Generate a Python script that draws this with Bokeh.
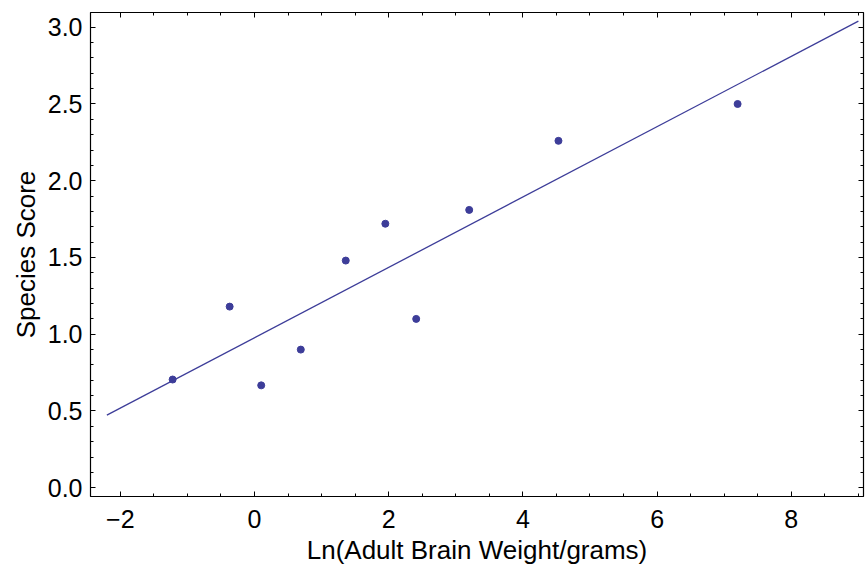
import numpy as np
from bokeh.plotting import figure
from bokeh.models import Range1d, LinearAxis, SingleIntervalTicker, CustomJSTickFormatter
from bokeh.embed import file_html
from bokeh.resources import INLINE

# Data
log_brain_weight = [-1.22, -0.37, 0.10, 0.69, 1.36, 1.95, 2.41, 3.20, 4.53, 7.20]
species_score = [0.705, 1.18, 0.667, 0.90, 1.48, 1.72, 1.10, 1.81, 2.26, 2.50]
fit_x_span = [-2.2, 9.0]

x_title = "Ln(Adult Brain Weight/grams)"
y_title = "Species Score"

MARK = "#3d3d99"
FONT = "Liberation Sans"

slope, intercept = np.polyfit(log_brain_weight, species_score, 1)
fit_x = np.array(fit_x_span)
fit_y = slope * fit_x + intercept

p = figure(width=865, height=569, output_backend="svg", toolbar_location=None,
           x_range=Range1d(-2.444, 9.076), y_range=Range1d(-0.057, 3.096),
           x_axis_location=None, y_axis_location=None)
p.min_border_left = 90
p.min_border_right = 2
p.min_border_top = 12
p.min_border_bottom = 73
p.xgrid.visible = False
p.ygrid.visible = False
p.outline_line_color = "black"
p.background_fill_color = "white"
p.border_fill_color = "white"

x_fmt = CustomJSTickFormatter(code="return tick < 0 ? '\\u2212' + Math.abs(tick) : String(tick);")
y_fmt = CustomJSTickFormatter(code="return tick.toFixed(1);")


def make_axis(kind, show_labels):
    if kind == "x":
        ax = LinearAxis(ticker=SingleIntervalTicker(interval=2, num_minor_ticks=4), formatter=x_fmt)
    else:
        ax = LinearAxis(ticker=SingleIntervalTicker(interval=0.5, num_minor_ticks=5), formatter=y_fmt)
    ax.axis_line_color = "black"
    ax.axis_line_width = 1.2
    ax.major_tick_in = 5
    ax.major_tick_out = 0
    ax.minor_tick_in = 3
    ax.minor_tick_out = 0
    ax.major_tick_line_color = "black"
    ax.minor_tick_line_color = "black"
    ax.major_label_text_font = FONT
    ax.major_label_text_color = "black"
    ax.axis_label_text_font = FONT
    ax.axis_label_text_font_style = "normal"
    ax.axis_label_text_color = "black"
    if show_labels:
        ax.major_label_text_font_size = "25px"
        ax.axis_label_text_font_size = "26px"
        ax.axis_label_standoff = 4
    else:
        ax.major_label_text_font_size = "0px"
        ax.major_label_standoff = 0
        ax.major_label_text_alpha = 0
    return ax


bx = make_axis("x", True)
bx.axis_label = x_title
bx.major_label_standoff = 13
ly = make_axis("y", True)
ly.axis_label = y_title
ly.major_label_standoff = 8
p.add_layout(bx, "below")
p.add_layout(ly, "left")
p.add_layout(make_axis("x", False), "above")
p.add_layout(make_axis("y", False), "right")

p.line(fit_x, fit_y, line_color=MARK, line_width=1.3)
p.scatter(log_brain_weight, species_score, size=7, fill_color=MARK, line_color=MARK)

open("out.html", "w").write(file_html(p, INLINE))
